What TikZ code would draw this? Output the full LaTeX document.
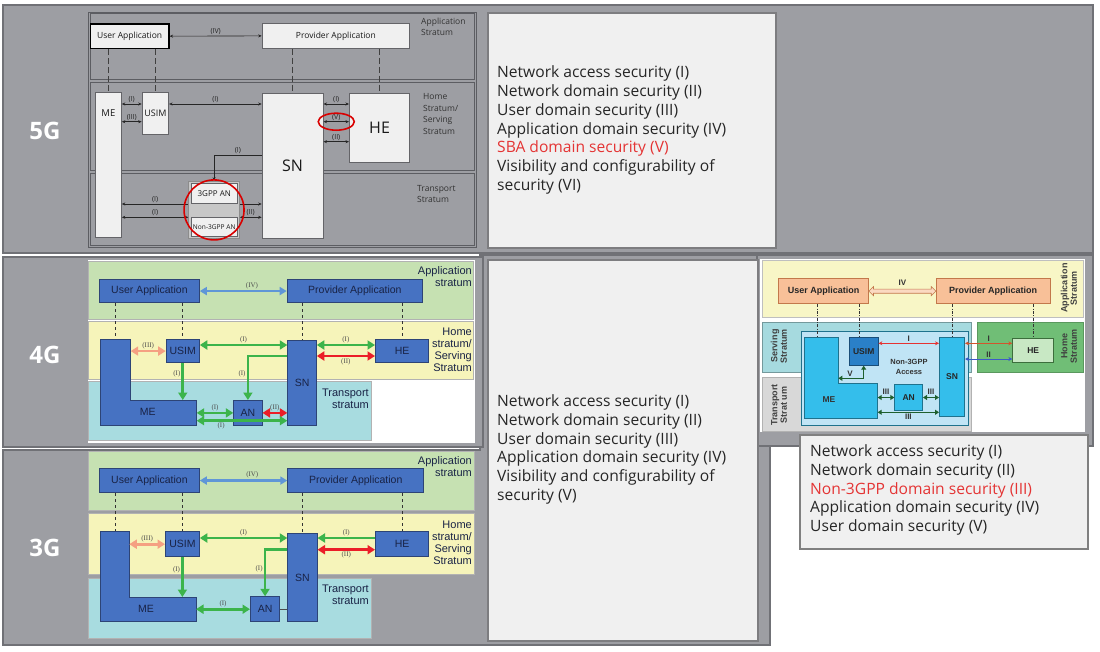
\documentclass[tikz,border=0pt]{standalone}
\usepackage{fontspec}
\setmainfont{Open Sans}
\newfontfamily\arialfont{Liberation Sans}
\newfontfamily\timesfont{Liberation Serif}
\usetikzlibrary{arrows.meta,calc,shapes.arrows,shapes.geometric}

\definecolor{pgray}{RGB}{157,158,163}
\definecolor{pedge}{RGB}{112,113,118}
\definecolor{tfill}{RGB}{240,240,240}
\definecolor{tedge}{RGB}{125,125,128}
\definecolor{sedge}{RGB}{92,93,98}
\definecolor{nfill}{RGB}{240,240,240}
\definecolor{nedge}{RGB}{100,100,104}
\definecolor{appgreen}{RGB}{198,225,178}
\definecolor{homeyellow}{RGB}{246,244,186}
\definecolor{transcyan}{RGB}{168,220,224}
\definecolor{boxblue}{RGB}{70,114,194}
\definecolor{boxedge}{RGB}{45,68,118}
\definecolor{boxtext}{RGB}{25,35,70}
\definecolor{agreen}{RGB}{60,180,75}
\definecolor{ared}{RGB}{235,30,40}
\definecolor{asalmon}{RGB}{245,160,130}
\definecolor{ablue}{RGB}{95,150,215}
\definecolor{ryellow}{RGB}{248,246,198}
\definecolor{rteal}{RGB}{166,218,223}
\definecolor{rgray}{RGB}{216,216,216}
\definecolor{rgreen}{RGB}{112,190,118}
\definecolor{raccess}{RGB}{192,228,245}
\definecolor{rcyan}{RGB}{52,190,235}
\definecolor{rusim}{RGB}{42,128,200}
\definecolor{rhe}{RGB}{200,232,196}
\definecolor{rheedge}{RGB}{60,110,60}
\definecolor{rorange}{RGB}{248,192,152}
\definecolor{roedge}{RGB}{195,120,75}
\definecolor{rdark}{RGB}{30,95,45}
\definecolor{rred}{RGB}{230,50,50}
\definecolor{rbrown}{RGB}{210,85,45}
\definecolor{rblue}{RGB}{60,90,200}
\definecolor{sbared}{RGB}{228,52,52}

\begin{document}
\begin{tikzpicture}[x=1pt,y=-1pt,
  corners/.style args={#1,#2,#3,#4}{anchor=north west,at={(#1,#2)},minimum width=#3-#1,minimum height=#4-#2},
  panel/.style={fill=pgray,draw=pedge,line width=1.5pt},
  txtbox/.style={fill=tfill,draw=tedge,line width=1.5pt,inner sep=0pt},
  txt/.style={font=\fontsize{15.6}{18.8}\selectfont,align=left,text=black!85,inner sep=0pt},
  gen/.style={font=\fontsize{24}{24}\selectfont\bfseries,text=white},
  stratum5/.style={fill=pgray,draw=sedge,line width=1pt},
  lbl5/.style={font=\fontsize{8.5}{11.5}\selectfont,text=black!80,align=left,inner sep=0pt},
  node5/.style={fill=nfill,draw=nedge,line width=0.8pt,inner sep=0pt,text=black!90,font=\fontsize{8.5}{10}\selectfont},
  s5/.tip={Stealth[length=3.5pt,width=3pt]},
  arr5/.style={line width=0.6pt,black!85,s5-s5},
  dash5/.style={line width=1pt,black!75,dash pattern=on 6pt off 3pt},
  tag5/.style={font=\fontsize{7}{7}\selectfont,text=black!85,inner sep=1pt},
  ring/.style={draw=red!85!black,line width=1.6pt,inner sep=0pt},
  stratum/.style={line width=0.6pt,draw=black!30},
  slabel/.style={font=\arialfont\fontsize{11}{12}\selectfont,text=boxtext,align=right,inner sep=0pt},
  bluebox/.style={fill=boxblue,draw=boxedge,line width=0.8pt,inner sep=0pt,text=boxtext,font=\arialfont\fontsize{10.5}{12}\selectfont},
  dash4/.style={line width=1pt,black!80,dash pattern=on 3pt off 3pt},
  gtip/.tip={Triangle[length=7.5pt,width=9pt]},
  garrow/.style={agreen,line width=2.8pt,gtip-gtip},
  rarrow/.style={ared,line width=2.8pt,gtip-gtip},
  sarrow/.style={asalmon,line width=2.6pt,gtip-gtip},
  barrow/.style={ablue,line width=2.2pt,{Triangle[length=7pt,width=8pt]}-{Triangle[length=7pt,width=8pt]}},
  tag4/.style={font=\timesfont\fontsize{7}{7}\selectfont,text=black!70,inner sep=1pt},
  rlabel/.style={font=\arialfont\bfseries\fontsize{9}{9.5}\selectfont,text=black!75,align=center,inner sep=0pt,rotate=90},
  rbox/.style={draw,line width=0.7pt,inner sep=0pt,text=black!85,font=\arialfont\bfseries\fontsize{8.5}{10}\selectfont},
  rtag/.style={font=\arialfont\bfseries\fontsize{8}{8}\selectfont,text=black!80,inner sep=1pt},
  dashr/.style={line width=0.9pt,black!80,dash pattern=on 3pt off 1.5pt on 0.8pt off 1.5pt},
  dtip/.tip={Triangle[length=4pt,width=5pt]},
  darrow/.style={rdark,line width=1.5pt,dtip-dtip},
  ttip/.tip={Stealth[length=4pt,width=4pt]},
  tarrow/.style={line width=1pt,ttip-ttip}]

\path[use as bounding box,fill=white] (0,0) rectangle (1100,651);
\path[panel] (3,5) rectangle (1093,253);
\path[panel] (3,450) -- (480,450) -- (480,255) -- (770,255) -- (770,645) -- (3,645) -- cycle;
\path[panel] (3,257) rectangle (483,447);
\path[panel] (757,255) rectangle (1093,446);

\node[gen] (g5) at (45,131) {5G};
\node[gen] (g4) at (45,355) {4G};
\node[gen] (g3) at (45,548) {3G};

\node[txtbox,corners={487,12,775,247}] (box5) {};
\node[txt,anchor=west] (list5) at (497,130) {Network access security (I)\\Network domain security (II)\\User domain security (III)\\Application domain security (IV)\\\textcolor{sbared}{SBA domain security (V)}\\Visibility and configurability of\\security (VI)};
\node[txtbox,corners={487,259,757,640}] (box43) {};
\node[txt,anchor=west] (list43) at (497,449.5) {Network access security (I)\\Network domain security (II)\\User domain security (III)\\Application domain security (IV)\\Visibility and configurability of\\security (V)};

% 5G
\path[stratum5] (88,12) rectangle (476,247);
\path[stratum5] (90,13) rectangle (474,79);
\path[stratum5] (90,82) rectangle (474,170);
\path[stratum5] (90,173) rectangle (474,245);
\node[lbl5,anchor=west] (app5) at (421,27) {Application\\Stratum};
\node[lbl5,anchor=west] (home5) at (423,114) {Home\\Stratum/\\Serving\\Stratum};
\node[lbl5,anchor=west] (tra5) at (417,194) {Transport\\Stratum};
\node[node5,draw=black,line width=1.3pt,corners={89.7,23.3,168.3,47.7}] (ua5) {User Application};
\node[node5,corners={261.7,23.3,409.3,47.7}] (pa5) {Provider Application};
\node[node5,corners={95,92,121,237}] (me5) {};
\node[node5,draw=none,fill=none,font=\fontsize{9.5}{10}\selectfont] (me5t) at ($(me5.north)+(0,21)$) {ME};
\node[node5,font=\fontsize{9}{10}\selectfont,corners={141.7,91.7,168.3,134}] (usim5) {USIM};
\node[node5,font=\fontsize{16}{16}\selectfont,corners={261.7,93.3,322.7,238.3}] (sn5) {SN};
\node[node5,font=\fontsize{16}{16}\selectfont,corners={349,93.3,409.3,162.3}] (he5) {HE};
\node[node5,fill=black!22,draw=black!45,corners={188.3,180.7,239,238.3}] (an5) {};
\node[node5,font=\fontsize{8}{9}\selectfont,corners={191,183,236.7,202.7}] (gpp5) {3GPP AN};
\node[node5,font=\fontsize{6.6}{8}\selectfont,corners={191,216.7,236.7,236}] (ngpp5) {Non-3GPP AN};
\draw[dash5] (ua5.south -| me5.north) -- (me5.north);
\draw[dash5] (ua5.south -| usim5.north) -- (usim5.north);
\draw[dash5] (pa5.south -| sn5.north) -- (sn5.north);
\draw[dash5] (pa5.south -| he5.north) -- (he5.north);
\coordinate (r5a) at (0,104);
\coordinate (r5b) at (0,121.7);
\coordinate (r5c) at (0,141.7);
\coordinate (r5d) at (0,155);
\coordinate (r5e) at (0,204);
\coordinate (r5f) at (0,217.3);
\draw[arr5] (ua5.east) -- node[tag5,above] (t5iv) {(IV)} (pa5.west);
\draw[arr5] (me5.east |- r5a) -- node[tag5,above] (t5a) {(I)} (usim5.west |- r5a);
\draw[arr5] (me5.east |- r5b) -- node[tag5,above] (t5b) {(III)} (usim5.west |- r5b);
\draw[arr5] (usim5.east |- r5a) -- node[tag5,above] (t5c) {(I)} (sn5.west |- r5a);
\draw[arr5] (sn5.east |- r5a) -- node[tag5,above] (t5d) {(I)} (he5.west |- r5a);
\draw[arr5] (sn5.east |- r5b) -- node[tag5,above] (t5e) {(V)} (he5.west |- r5b);
\draw[arr5] (sn5.east |- r5c) -- node[tag5,above] (t5f) {(II)} (he5.west |- r5c);
\draw[arr5,-s5] (sn5.west |- r5d) -| node[tag5,above,pos=0.25] (t5g) {(I)} (an5.north);
\draw[arr5,s5-] (me5.east |- r5e) -- node[tag5,above] (t5h) {(I)} (an5.west |- r5e);
\draw[arr5,-s5] (an5.east |- r5e) -- (sn5.west |- r5e);
\draw[arr5] (me5.east |- r5f) -- node[tag5,above] (t5i) {(I)} (an5.west |- r5f);
\draw[arr5] (an5.east |- r5f) -- node[tag5,above] (t5j) {(II)} (sn5.west |- r5f);
\node[ring,circle,minimum size=60] (ring5a) at (an5.center) {};
\node[ring,ellipse,minimum width=36,minimum height=17] (ring5b) at ($(sn5.east |- r5b)!0.5!(he5.west |- r5b)$) {};

% 4G
\fill[white] (88.3,260) rectangle (475,443.3);
\path[stratum,fill=appgreen] (88.3,261.7) rectangle (473.3,319);
\path[stratum,fill=homeyellow] (88.3,321.7) rectangle (473.3,379);
\path[stratum,fill=transcyan] (88.3,381.7) rectangle (371,440);
\node[slabel,anchor=east] (app4) at (472,277) {Application\\stratum};
\node[slabel,anchor=east] (home4) at (472,349.5) {Home\\stratum/\\Serving\\Stratum};
\node[slabel,anchor=east] (tra4) at (369,399) {Transport\\stratum};
\node[bluebox,corners={99,279,199,302.3}] (ua4) {User Application};
\node[bluebox,corners={286.7,279,422.3,302.3}] (pa4) {Provider Application};
\node[bluebox,corners={165.7,339,199,362.3}] (usim4) {USIM};
\node[bluebox,corners={375,339,428.3,362.3}] (he4) {HE};
\node[bluebox,corners={287.3,340,316,425}] (sn4) {SN};
\node[bluebox,corners={233.3,400,261.7,425}] (an4) {AN};
\coordinate (me4a) at (100,339);
\coordinate (me4b) at (130.7,400);
\coordinate (me4c) at (196.7,425);
\draw[bluebox] (me4a) -| (me4b) -| (me4c) -| (me4a) -- cycle;
\node[bluebox,draw=none,fill=none] (me4) at (147.7,411.7) {ME};
\coordinate (me4n) at (115.4,339);
\draw[dash4] (ua4.south -| me4n) -- (me4n);
\draw[dash4] (ua4.south -| usim4.north) -- (usim4.north);
\draw[dash4] (pa4.south -| sn4.north) -- (sn4.north);
\draw[dash4] (pa4.south -| he4.north) -- (he4.north);
\coordinate (r4a) at (0,345);
\coordinate (r4c) at (0,356);
\coordinate (r4f) at (0,420.7);
\draw[barrow] (ua4.east) -- node[tag4,above,pos=0.6] (t4iv) {(IV)} (pa4.west);
\draw[sarrow] (usim4.west -| me4b) -- node[tag4,above] (t4a) {(III)} (usim4.west);
\draw[garrow] (usim4.east |- r4a) -- node[tag4,above] (t4b) {(I)} (sn4.west |- r4a);
\draw[garrow] (sn4.east |- r4a) -- node[tag4,above] (t4c) {(I)} (he4.west |- r4a);
\draw[rarrow] (sn4.east |- r4c) -- node[tag4,below] (t4d) {(II)} (he4.west |- r4c);
\draw[garrow,-gtip] (usim4.south) -- node[tag4,left,pos=0.3] (t4e) {(I)} (usim4.south |- me4b);
\draw[garrow,-gtip] (sn4.west |- r4c) -| node[tag4,left,pos=0.7] (t4f) {(I)} (an4.north);
\draw[garrow] (me4c |- an4.west) -- node[tag4,above] (t4g) {(I)} (an4.west);
\draw[rarrow] (an4.east) -- node[tag4,above] (t4h) {(II)} (sn4.west |- an4.east);
\draw[garrow] (me4c |- r4f) -- node[tag4,below,pos=0.27] (t4i) {(I)} (sn4.west |- r4f);

% 3G
\path[stratum,fill=appgreen] (88.3,451.3) rectangle (474.3,510.3);
\path[stratum,fill=homeyellow] (88.3,513.7) rectangle (474.3,574.7);
\path[stratum,fill=transcyan] (88.3,578) rectangle (371.7,638.7);
\node[slabel,anchor=east] (app3) at (472,466.5) {Application\\stratum};
\node[slabel,anchor=east] (home3) at (472,543) {Home\\stratum/\\Serving\\Stratum};
\node[slabel,anchor=east] (tra3) at (369,595) {Transport\\stratum};
\node[bluebox,corners={99,468,199,492.3}] (ua3) {User Application};
\node[bluebox,corners={287.3,468,423.3,492.3}] (pa3) {Provider Application};
\node[bluebox,corners={165,531.3,199,556.3}] (usim3) {USIM};
\node[bluebox,corners={375,531.3,428.3,556.3}] (he3) {HE};
\node[bluebox,corners={287.3,533,316.7,621.3}] (sn3) {SN};
\node[bluebox,corners={250,596.3,279.3,621.3}] (an3) {AN};
\coordinate (me3a) at (100,531.3);
\coordinate (me3b) at (129.3,597);
\coordinate (me3c) at (196,621.3);
\draw[bluebox] (me3a) -| (me3b) -| (me3c) -| (me3a) -- cycle;
\node[bluebox,draw=none,fill=none] (me3) at (146,609) {ME};
\coordinate (me3n) at (115.7,531.3);
\draw[dash4] (ua3.south -| me3n) -- (me3n);
\draw[dash4] (ua3.south -| usim3.north) -- (usim3.north);
\draw[dash4] (pa3.south -| sn3.north) -- (sn3.north);
\draw[dash4] (pa3.south -| he3.north) -- (he3.north);
\coordinate (r3a) at (0,538);
\coordinate (r3c) at (0,549.7);
\draw[barrow] (ua3.east) -- node[tag4,above,pos=0.6] (t3iv) {(IV)} (pa3.west);
\draw[sarrow] (usim3.west -| me3b) -- node[tag4,above] (t3a) {(III)} (usim3.west);
\draw[garrow] (usim3.east |- r3a) -- node[tag4,above] (t3b) {(I)} (sn3.west |- r3a);
\draw[garrow,-gtip] (he3.west |- r3a) -- node[tag4,above] (t3c) {(I)} (sn3.east |- r3a);
\draw[rarrow] (sn3.east |- r3c) -- node[tag4,below] (t3d) {(II)} (he3.west |- r3c);
\draw[garrow,-gtip] (usim3.south) -- node[tag4,left,pos=0.33] (t3e) {(I)} (usim3.south |- me3b);
\draw[garrow,-gtip] (sn3.west |- r3c) -| node[tag4,left,pos=0.71] (t3f) {(I)} (an3.north);
\draw[garrow] (me3c |- an3.west) -- node[tag4,above] (t3g) {(I)} (an3.west);
\draw[line width=1.2pt,black!70] (an3.east) -- (sn3.west |- an3.east);

% non-3GPP
\fill[white] (760,259) rectangle (1085,432);
\path[draw=black!25,fill=ryellow] (762.3,260) rectangle (1083.3,316.7);
\path[draw=rteal!70!black,fill=rteal] (762.3,321.7) rectangle (971,371.7);
\path[draw=black!30,fill=rgray] (762.3,376.7) rectangle (971,431);
\path[draw=rgreen!80!black,fill=rgreen] (976.7,321.7) rectangle (1083.3,371.7);
\path[draw=rcyan!60!black,fill=raccess] (801,331) rectangle (967.7,425);
\node[rlabel] (appr) at (1069,288) {Application\\Stratum};
\node[rlabel] (servr) at (779,346) {Serving\\Stratum};
\node[rlabel] (trar) at (779,405) {Transport\\Strat um};
\node[rlabel] (homer) at (1069,346) {Home\\Stratum};
\node[rbox,fill=rorange,draw=roedge,font=\arialfont\bfseries\fontsize{9}{10}\selectfont,corners={778.3,278.3,868.3,303.3}] (uar) {User Application};
\node[rbox,fill=rorange,draw=roedge,font=\arialfont\bfseries\fontsize{9}{10}\selectfont,corners={935.7,278.3,1050,303.3}] (par) {Provider Application};
\coordinate (mera) at (804.3,337.7);
\coordinate (merb) at (838.3,383.3);
\coordinate (merc) at (877.7,418.3);
\draw[fill=rcyan,draw=rcyan!60!black,line width=0.7pt] (mera) -| (merb) -| (merc) -| (mera) -- cycle;
\node[rtag,font=\arialfont\bfseries\fontsize{8.5}{10}\selectfont] (mer) at (829,400) {ME};
\node[rbox,fill=rusim,draw=rusim!60!black,corners={849,336.7,877.7,365}] (usimr) {USIM};
\node[rbox,fill=rcyan,draw=rcyan!60!black,corners={939,336.7,964.3,415.7}] (snr) {SN};
\node[rbox,fill=rcyan,draw=rcyan!60!black,corners={894.3,384.3,922.3,410}] (anr) {AN};
\node[rbox,fill=rhe,draw=rheedge,corners={1012.3,337.7,1053.3,362.3}] (her) {HE};
\node[rtag,align=center,font=\arialfont\bfseries\fontsize{7.5}{10}\selectfont] (accr) at (909,366.7) {Non-3GPP\\Access};
\coordinate (mern) at (817.3,337.7);
\coordinate (usimrn) at ([xshift=-4.3pt]usimr.north);
\draw[dashr] (uar.south -| mern) -- (mern);
\draw[dashr] (uar.south -| usimrn) -- (usimrn);
\draw[dashr] (par.south -| snr.north) -- (snr.north);
\draw[dashr] (par.south -| her.north) -- (her.north);
\node[double arrow,draw=roedge,fill=rorange!60,line width=0.6pt,inner xsep=0pt,inner ysep=1.8pt,double arrow head extend=2.5pt,minimum height=67] (ivr) at ($(uar.east)!0.5!(par.west)$) {};
\node[rtag] (tivr) at ([yshift=8pt]ivr.center) {IV};
\coordinate (rra) at (0,343.3);
\coordinate (rrb) at (0,359);
\coordinate (rrv) at (0,378.3);
\coordinate (rrc) at (0,412.3);
\draw[tarrow,rred] (usimr.east |- rra) -- node[rtag,above] (tri) {I} (snr.west |- rra);
\draw[tarrow,rbrown] (snr.east |- rra) -- node[rtag,above] (trj) {I} (her.west |- rra);
\draw[tarrow,rblue] (snr.east |- rrb) -- node[rtag,above] (trk) {II} (her.west |- rrb);
\draw[darrow,line width=1.2pt] (merb |- rrv) -| node[rtag,above,pos=0.23] (trv) {V} (usimr.south);
\draw[darrow] (merc |- anr.west) -- node[rtag,above=1.5pt] (trm) {III} (anr.west);
\draw[darrow] (anr.east) -- node[rtag,above=1.5pt] (trn) {III} (snr.west |- anr.east);
\draw[darrow] (merc |- rrc) -- node[rtag,below] (tro) {III} (snr.west |- rrc);
\node[txtbox,draw=black!50,line width=2pt,corners={799,434,1087,548}] (boxr) {};
\node[txt,anchor=west] (listr) at (810,490) {Network access security (I)\\Network domain security (II)\\\textcolor{sbared}{Non-3GPP domain security (III)}\\Application domain security (IV)\\User domain security (V)};
\end{tikzpicture}
\end{document}
